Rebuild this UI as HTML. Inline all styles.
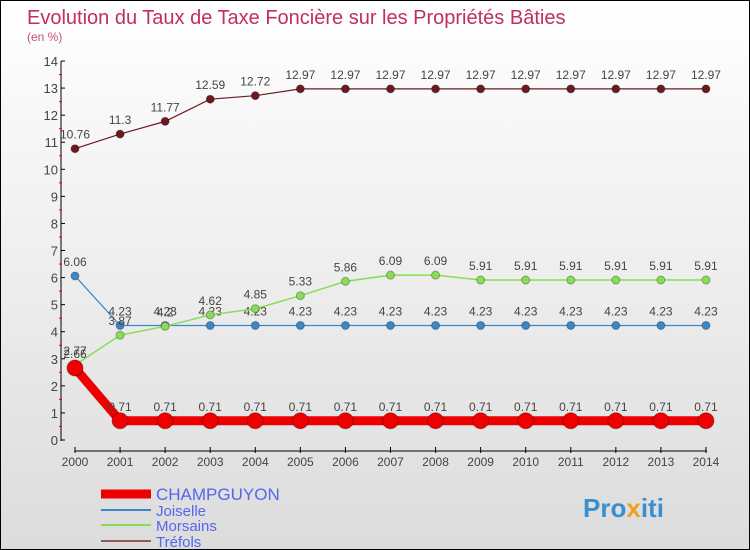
<!DOCTYPE html>
<html><head><meta charset="utf-8"><style>
body{margin:0}
#c{position:relative;width:748px;height:548px;border:1px solid #000;background:linear-gradient(#fff,#dcdcdc);font-family:"Liberation Sans",sans-serif;overflow:hidden}
svg text{font-family:"Liberation Sans",sans-serif}
</style></head><body>
<div id="c">
<svg id="s" width="748" height="548">
<text x="26" y="23" font-size="20" fill="#c0305a">Evolution du Taux de Taxe Foncière sur les Propriétés Bâties</text>
<text x="26" y="40" font-size="12" fill="#c0507a">(en %)</text>
<g id="axes"></g><g id="series"></g><g id="legend"></g>
<text x="582" y="516" font-size="26" font-weight="bold" fill="#3a8fd0">Pro<tspan fill="#f0a020">x</tspan>iti</text>
</svg></div>
<script>
const years=[2000,2001,2002,2003,2004,2005,2006,2007,2008,2009,2010,2011,2012,2013,2014];
const champguyon=[2.66,0.71,0.71,0.71,0.71,0.71,0.71,0.71,0.71,0.71,0.71,0.71,0.71,0.71,0.71];
const joiselle=[6.06,4.23,4.23,4.23,4.23,4.23,4.23,4.23,4.23,4.23,4.23,4.23,4.23,4.23,4.23];
const morsains=[2.77,3.87,4.2,4.62,4.85,5.33,5.86,6.09,6.09,5.91,5.91,5.91,5.91,5.91,5.91];
const trefols=[10.76,11.3,11.77,12.59,12.72,12.97,12.97,12.97,12.97,12.97,12.97,12.97,12.97,12.97,12.97];
const yTicks=[0,1,2,3,4,5,6,7,8,9,10,11,12,13,14];
const NS="http://www.w3.org/2000/svg";
const x=i=>74+i*45.07, y=v=>439-v*27.07;
function mk(t,a,p){const e=document.createElementNS(NS,t);for(const k in a)e.setAttribute(k,a[k]);p.appendChild(e);return e;}
const ax=document.getElementById('axes');
let yl=mk('line',{x1:60,y1:60,x2:60,y2:440,stroke:'#000'},ax);


let xl=mk('line',{x1:74,y1:450,x2:706,y2:450,stroke:'#000'},ax);


yTicks.forEach(v=>{
 mk('line',{x1:60,y1:y(v),x2:64,y2:y(v),stroke:'#000'},ax);
 if(v<14)mk('line',{x1:58,y1:y(v+0.5),x2:61,y2:y(v+0.5),stroke:'#e00'},ax);
 const t=mk('text',{x:57,y:y(v)+5,'font-size':13,fill:'#444','text-anchor':'end'},ax);t.textContent=v;
 
 
});
years.forEach((yr,i)=>{
 mk('line',{x1:x(i),y1:446,x2:x(i),y2:452,stroke:'#000'},ax);
 const t=mk('text',{x:x(i),y:465,'font-size':12,fill:'#444','text-anchor':'middle'},ax);t.textContent=yr;
 
 
});
const sg=document.getElementById('series');
function draw(vals,col,lw,r,name){
 const g=mk('g',{},sg);
 
 
 mk('polyline',{points:vals.map((v,i)=>x(i)+','+y(v)).join(' '),fill:'none',stroke:col,'stroke-width':lw},g);
 vals.forEach((v,i)=>{
  const c=mk('circle',{cx:x(i),cy:y(v),r:r,fill:col,stroke:'rgba(0,0,0,0.3)'},g);
  
  
  const t=mk('text',{x:x(i),y:y(v)-10,'font-size':12,fill:'#444','text-anchor':'middle'},g);t.textContent=v;
  
  
 });
}
draw(trefols,'#6b1a20',1.2,4,'trefols');
draw(joiselle,'#3a88c8',1.2,4,'joiselle');
draw(morsains,'#88dd55',1.5,4,'morsains');
draw(champguyon,'#ee0000',9,8,'champguyon');
const lg=document.getElementById('legend');
[['CHAMPGUYON','#ee0000',9,493,17],['Joiselle','#3a88c8',2,509,15],['Morsains','#88dd55',2,524,15],['Tréfols','#8b5a5a',2,540,15]].forEach(d=>{
 const g=mk('g',{},lg);
 
 
 mk('line',{x1:100,y1:d[3],x2:150,y2:d[3],stroke:d[1],'stroke-width':d[2]},g);
 const t=mk('text',{x:155,y:d[3]+6,'font-size':d[4],fill:'#5566ee'},g);t.textContent=d[0];
});
</script>
</body></html>
